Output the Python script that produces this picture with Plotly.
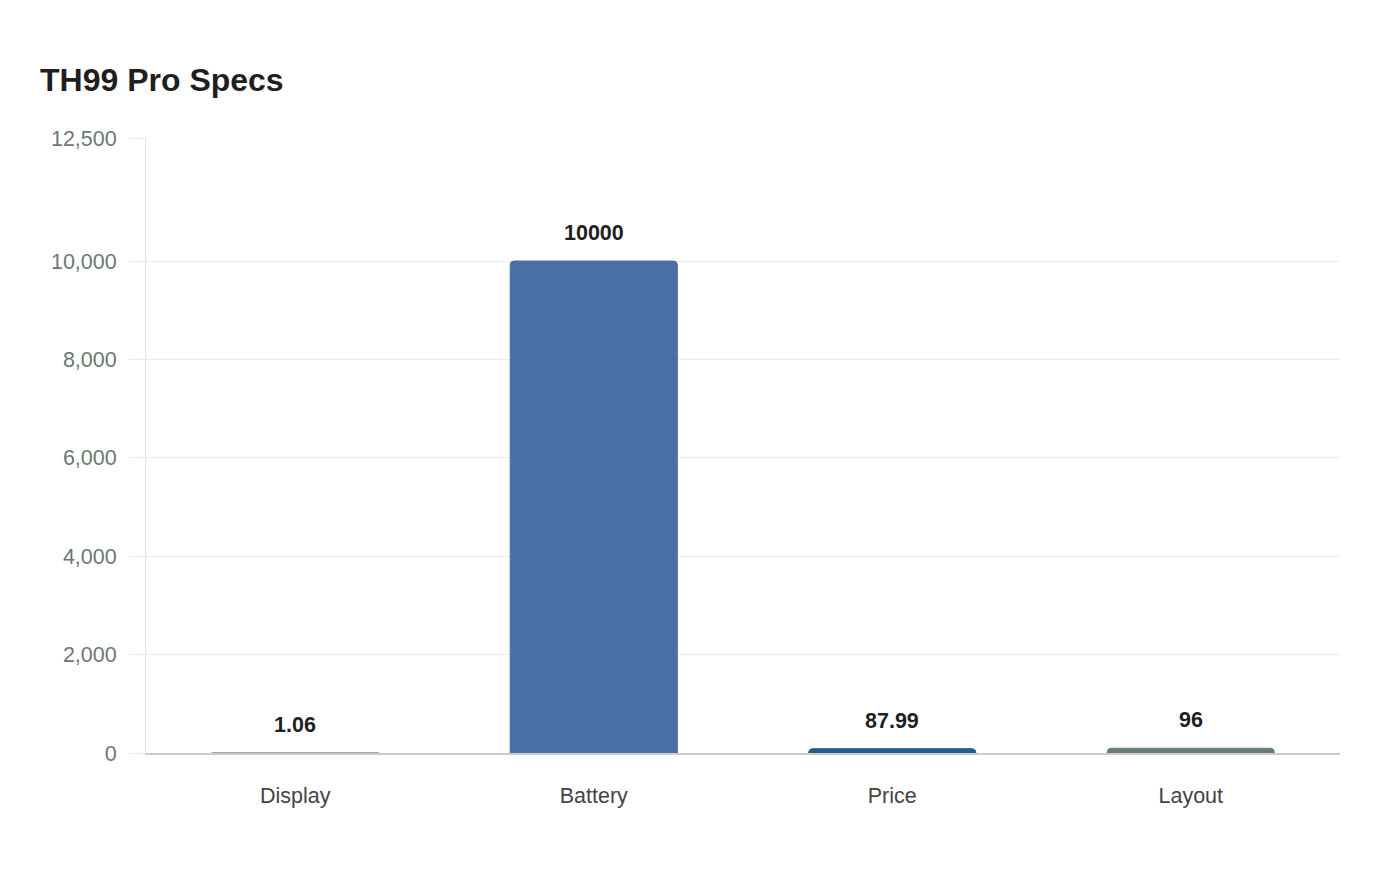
import plotly.graph_objs as go

# spec values
categories = ["Display", "Battery", "Price", "Layout"]
values = [1.06, 10000, 87.99, 96]
labels = ["1.06", "10000", "87.99", "96"]
colors = ["#7f9196", "#4a6fa5", "#245f8c", "#6a7a76"]
tick_vals = [0, 2000, 4000, 6000, 8000, 10000, 12500]
tick_text = ["0", "2,000", "4,000", "6,000", "8,000", "10,000", "12,500"]

fig = go.Figure()

fig.add_trace(go.Bar(
    x=categories,
    y=values,
    marker=dict(color=colors, line=dict(color=colors, width=1)),
    hoverinfo="x+y",
))

# value labels above each bar
for cat, val, lab in zip(categories, values, labels):
    fig.add_annotation(
        x=cat, y=val, text="<b>" + lab + "</b>",
        showarrow=False, yanchor="bottom", yshift=14,
        font=dict(size=21.5, color="#1f1f1f"),
    )

fig.update_layout(
    width=1400, height=880,
    paper_bgcolor="white", plot_bgcolor="white",
    font=dict(family="Liberation Sans, Arial, sans-serif"),
    title=dict(
        text="<b>TH99 Pro Specs</b>",
        x=32 / 1400, xanchor="left", xref="container",
        y=1 - 72 / 880, yanchor="middle", yref="container",
        font=dict(size=32, color="#1f1f1f"),
    ),
    margin=dict(l=138, r=68, t=130, b=135),
    bargap=0.44,
    barcornerradius=4,
    showlegend=False,
    xaxis=dict(
        showline=True, linecolor="#cccccc", linewidth=2,
        ticks="", tickfont=dict(size=21.5, color="#444444"),
        ticklabelstandoff=22,
    ),
    yaxis=dict(
        range=[0, 12500], tickvals=tick_vals, ticktext=tick_text,
        showgrid=True, gridcolor="#ebebeb", gridwidth=1,
        showline=True, linecolor="#e0e0e0", linewidth=1,
        zeroline=False,
        ticks="outside", ticklen=16, tickcolor="#ebebeb",
        tickfont=dict(size=21.5, color="#6b7873"),
        ticklabelstandoff=8,
    ),
)

fig.write_html("out.html")
